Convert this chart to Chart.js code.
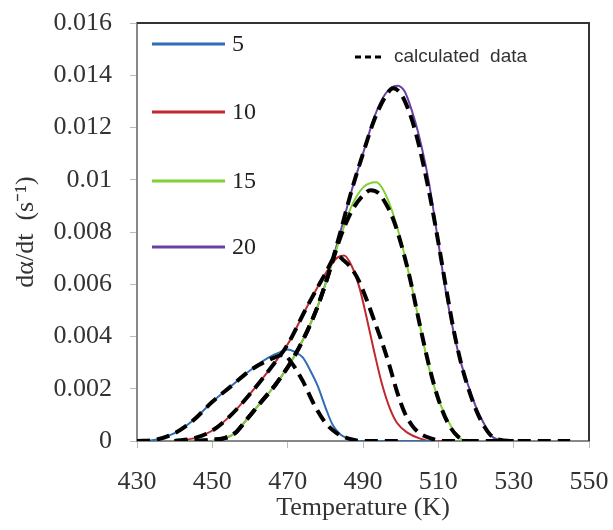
<!DOCTYPE html>
<html>
<head>
<meta charset="utf-8">
<script src="https://cdn.jsdelivr.net/npm/chart.js@4.4.1/dist/chart.umd.min.js"></script>
<style>
  html, body { margin: 0; padding: 0; background: #fff; }
</style>
</head>
<body>
<canvas id="myChart" width="613" height="530"></canvas>
<script>
// measured curves (heating rate 5,10,15,20 K/min)
var tempExp5 = [430, 435, 440, 445, 450, 455, 460, 465, 468, 470, 472, 474, 476, 478, 480, 482, 484, 486, 489, 495, 510];
var rateExp5 = [0, 0.00005, 0.0003, 0.0008, 0.0015, 0.0021, 0.0027, 0.0032, 0.0034, 0.0035, 0.0034, 0.0032, 0.0027, 0.0021, 0.0013, 0.0006, 0.00025, 0.0001, 0, 0, 0];

var tempExp10 = [440, 445, 448, 451, 455, 460, 465, 470, 475, 480, 483, 485, 487, 489, 491, 493, 495, 497, 499, 502, 505, 508, 512];
var rateExp10 = [0, 0.0001, 0.00025, 0.0005, 0.001, 0.0018, 0.0027, 0.0037, 0.0051, 0.0064, 0.0070, 0.0071, 0.0067, 0.0059, 0.0047, 0.0034, 0.0022, 0.0013, 0.0007, 0.0003, 0.0001, 0, 0];

var tempExp15 = [450, 453, 456, 459, 463, 467, 472, 477, 480, 484, 487, 490, 493.5, 495, 497.5, 500, 502.5, 505, 507.5, 510, 512.5, 515, 517];
var rateExp15 = [0, 0.0001, 0.0003, 0.0008, 0.0015, 0.0022, 0.0033, 0.0048, 0.006, 0.0078, 0.009, 0.0097, 0.0099, 0.0097, 0.0089, 0.0077, 0.0062, 0.0045, 0.0028, 0.0016, 0.0008, 0.0002, 0];

var tempExp20 = [450, 453, 456, 459, 463, 467, 472, 477, 480, 484, 487, 490, 493, 496, 499, 501, 503.5, 505.5, 507.5, 510, 512, 514, 516, 518, 520, 522, 524, 527];
var rateExp20 = [0, 0.0001, 0.0003, 0.0008, 0.0015, 0.0022, 0.0033, 0.0048, 0.006, 0.008, 0.0096, 0.011, 0.0124, 0.0133, 0.0136, 0.0134, 0.0124, 0.0113, 0.0099, 0.0076, 0.0057, 0.0042, 0.003, 0.0021, 0.0013, 0.0007, 0.0002, 0];

// calculated curves
var tempCalc5 = [430, 435, 440, 445, 450, 455, 460, 465, 469, 471, 474, 477, 480, 483, 486, 490, 500];
var rateCalc5 = [0, 0.00005, 0.0003, 0.0008, 0.0015, 0.0021, 0.0027, 0.0031, 0.0033, 0.003, 0.0023, 0.0014, 0.0007, 0.0003, 0.0001, 0, 0];

var tempCalc10 = [440, 445, 450, 455, 460, 465, 470, 475, 480, 483, 485, 487, 489, 491, 493, 495, 497, 499, 501, 503, 505, 508, 511, 520];
var rateCalc10 = [0, 0.0001, 0.0004, 0.001, 0.0018, 0.0027, 0.0037, 0.0051, 0.0064, 0.0071, 0.0069, 0.0066, 0.0061, 0.0054, 0.0046, 0.0038, 0.0029, 0.0019, 0.0011, 0.0006, 0.0003, 0.0001, 0, 0];

var tempCalc15 = [440, 445, 450, 453, 456, 459, 463, 467, 472, 477, 480, 484, 487, 490, 492, 494, 496, 498, 500, 502.5, 505, 507.5, 510, 512.5, 515, 518, 530];
var rateCalc15 = [0, 0, 0.00005, 0.0001, 0.0003, 0.0008, 0.0015, 0.0022, 0.0033, 0.0048, 0.006, 0.0078, 0.0088, 0.0094, 0.0096, 0.0095, 0.0091, 0.0085, 0.0076, 0.0062, 0.0045, 0.0029, 0.0016, 0.0007, 0.0002, 0, 0];

var tempCalc20 = [440, 445, 450, 453, 456, 459, 463, 467, 472, 477, 480, 484, 487, 490, 493, 496, 498, 500, 502, 504, 506, 508, 510, 512, 514, 516, 518, 520, 522, 525, 530, 545];
var rateCalc20 = [0, 0, 0.00005, 0.0001, 0.0003, 0.0008, 0.0015, 0.0022, 0.0033, 0.0048, 0.006, 0.008, 0.0096, 0.011, 0.0123, 0.0132, 0.0135, 0.0133, 0.0127, 0.0118, 0.0106, 0.0092, 0.0076, 0.0059, 0.0043, 0.003, 0.002, 0.0012, 0.0006, 0.0001, 0, 0];

var seriesNames = ['5', '10', '15', '20'];
var seriesColors = ['#2f6db5', '#c0282d', '#7fd134', '#6a40a6'];
var calcLabel = 'calculated  data';
var xTicks = [430, 450, 470, 490, 510, 530, 550];
var yTicks = [0, 0.002, 0.004, 0.006, 0.008, 0.01, 0.012, 0.014, 0.016];

function pts(xs, ys) {
    var out = [];
    for (var i = 0; i < xs.length; i++) out.push({x: xs[i], y: ys[i]});
    return out;
}

var expT = [tempExp5, tempExp10, tempExp15, tempExp20];
var expR = [rateExp5, rateExp10, rateExp15, rateExp20];
var calcT = [tempCalc5, tempCalc10, tempCalc15, tempCalc20];
var calcR = [rateCalc5, rateCalc10, rateCalc15, rateCalc20];

var datasets = [];
for (var i = 0; i < 4; i++) {
    datasets.push({
        label: 'calc ' + seriesNames[i],
        data: pts(calcT[i], calcR[i]),
        borderColor: '#000',
        borderWidth: 4,
        borderDash: [13, 7],
        order: 1
    });
}
for (var i = 0; i < 4; i++) {
    datasets.push({
        label: seriesNames[i],
        data: pts(expT[i], expR[i]),
        borderColor: seriesColors[i],
        borderWidth: 2,
        order: 2
    });
}

var serif = "'Liberation Serif', 'Times New Roman', serif";

// kill the extra label padding chart.js adds around the plot
function noPad(s) {
    s.paddingTop = 0; s.paddingBottom = 0; s.paddingLeft = 0; s.paddingRight = 0;
}

// frame on top and right, legend inside the plot
var framePlugin = {
    id: 'frame',
    afterDatasetsDraw: function(chart) {
        var a = chart.chartArea, c = chart.ctx;
        c.save();
        c.strokeStyle = '#333';
        c.lineWidth = 2;
        c.beginPath();
        c.moveTo(a.left, a.top);
        c.lineTo(a.right, a.top);
        c.lineTo(a.right, a.bottom);
        c.stroke();

        // series legend
        var rows = [44, 112, 181, 247];
        c.lineWidth = 3;
        c.font = '24px ' + serif;
        c.textBaseline = 'middle';
        c.fillStyle = '#222';
        for (var i = 0; i < 4; i++) {
            c.strokeStyle = seriesColors[i];
            c.beginPath();
            c.moveTo(152, rows[i]);
            c.lineTo(225, rows[i]);
            c.stroke();
            c.fillText(seriesNames[i], 232, rows[i] + 1);
        }

        // calculated data key
        c.strokeStyle = '#000';
        c.lineWidth = 3;
        c.setLineDash([6, 4]);
        c.beginPath();
        c.moveTo(355, 57);
        c.lineTo(383, 57);
        c.stroke();
        c.setLineDash([]);
        c.font = "19px 'Liberation Sans', Arial, sans-serif";
        c.fillStyle = '#333';
        c.fillText(calcLabel, 394, 57);
        c.restore();
    }
};

var ctx = document.getElementById('myChart').getContext('2d');
var chart = new Chart(ctx, {
    type: 'line',
    data: { datasets: datasets },
    options: {
        responsive: false,
        animation: false,
        events: [],
        layout: { padding: { top: 23, right: 24, left: 0, bottom: 0 } },
        elements: {
            point: { radius: 0 },
            line: { cubicInterpolationMode: 'monotone', fill: false }
        },
        plugins: {
            legend: { display: false },
            tooltip: { enabled: false }
        },
        scales: {
            x: {
                type: 'linear',
                min: 430,
                max: 550,
                afterBuildTicks: function(s) { s.ticks = xTicks.map(function(v) { return {value: v}; }); },
                afterFit: function(s) { s.height = 89; noPad(s); },
                ticks: {
                    font: { family: serif, size: 26 },
                    color: '#333',
                    padding: 19,
                    maxRotation: 0
                },
                grid: { drawOnChartArea: false, drawTicks: true, tickLength: 7, color: '#bbb' },
                border: { display: true, color: '#888', width: 2 },
                title: {
                    display: true,
                    text: 'Temperature (K)',
                    font: { family: serif, size: 26 },
                    color: '#333',
                    padding: { top: 0, bottom: 6 }
                }
            },
            y: {
                min: 0,
                max: 0.016,
                afterBuildTicks: function(s) { s.ticks = yTicks.map(function(v) { return {value: v}; }); },
                afterFit: function(s) { s.width = 137; noPad(s); },
                ticks: {
                    font: { family: serif, size: 26 },
                    color: '#333',
                    padding: 18,
                    callback: function(v) { return String(+v.toFixed(3)); }
                },
                grid: { drawOnChartArea: false, drawTicks: true, tickLength: 7, color: '#bbb' },
                border: { display: true, color: '#888', width: 2 },
                title: {
                    display: true,
                    text: 'dα/dt  (s⁻¹)',
                    font: { family: serif, size: 26 },
                    color: '#333',
                    padding: { top: 11, bottom: 0 }
                }
            }
        }
    },
    plugins: [framePlugin]
});
</script>
</body>
</html>
